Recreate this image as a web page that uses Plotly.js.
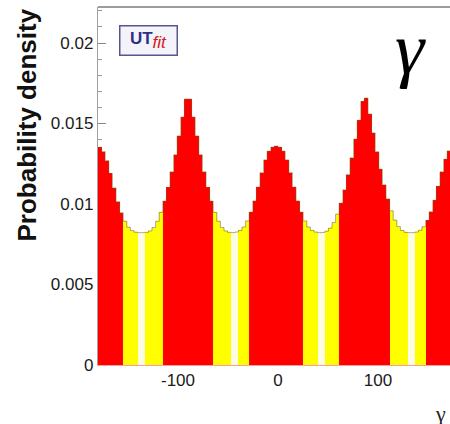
<!DOCTYPE html>
<html>
<head>
<meta charset="utf-8">
<script src="https://cdn.plot.ly/plotly-3.0.1.min.js"></script>
<style>
  html, body { margin: 0; padding: 0; background: #ffffff; overflow: hidden; }
  #chart { width: 460px; height: 424px; }
</style>
</head>
<body>
<div id="chart"></div>
<script>
// Posterior of the CKM angle gamma (degrees), 100 bins from -180 to 180
const binLow = -180;
const binWidth = 3.6;
const density = [
  0.01353, 0.01326, 0.01270, 0.01190, 0.01100, 0.01015, 0.00946, 0.00893, 0.00856, 0.00835,
  0.00825, 0.00822, 0.00822, 0.00824, 0.00833, 0.00854, 0.00893, 0.00948, 0.01018, 0.01103,
  0.01200, 0.01306, 0.01423, 0.01540, 0.01652, 0.01652, 0.01540, 0.01423, 0.01306, 0.01200,
  0.01103, 0.01018, 0.00948, 0.00893, 0.00854, 0.00833, 0.00824, 0.00822, 0.00826, 0.00836,
  0.00857, 0.00895, 0.00949, 0.01019, 0.01105, 0.01195, 0.01274, 0.01328, 0.01353, 0.01360,
  0.01353, 0.01328, 0.01274, 0.01195, 0.01105, 0.01019, 0.00949, 0.00895, 0.00857, 0.00836,
  0.00826, 0.00822, 0.00823, 0.00831, 0.00850, 0.00885, 0.00937, 0.01005, 0.01088, 0.01183,
  0.01287, 0.01403, 0.01520, 0.01637, 0.01658, 0.01559, 0.01442, 0.01325, 0.01216, 0.01119,
  0.01032, 0.00958, 0.00900, 0.00860, 0.00836, 0.00824, 0.00822, 0.00822, 0.00826, 0.00837,
  0.00859, 0.00898, 0.00952, 0.01023, 0.01110, 0.01200, 0.01278, 0.01330, 0.01354, 0.01360
];

// 68% probability intervals (red) and the gaps outside the 95% region (pale)
const interval68 = [[-180, -154.8], [-115.2, -64.8], [-28.8, 25.2], [61.2, 111.6], [147.6, 180]];
const outside95 = [[-140.4, -133.2], [-46.8, -39.6], [39.6, 46.8], [129.6, 136.8]];

// Axis ticks
const xTickVals = [-100, 0, 100];
const xTickText = ['-100', '0', '100'];
const yTickVals = [0, 0.005, 0.01, 0.015, 0.02];
const yTickText = ['0', '0.005', '0.01', '0.015', '0.02'];

const centers = density.map((_, i) => binLow + binWidth * (i + 0.5));
const inAny = (x, list) => list.some(([a, b]) => x > a && x < b);
const colors = centers.map(c =>
  inAny(c, interval68) ? '#ff0000' : (inAny(c, outside95) ? '#fdfde6' : '#ffff00'));

const bars = {
  type: 'bar',
  x: centers,
  y: density,
  width: binWidth,
  marker: { color: colors, line: { width: 0 } },
  hoverinfo: 'skip'
};

const outline = {
  type: 'scatter',
  mode: 'lines',
  x: centers,
  y: density,
  line: { shape: 'hvh', color: 'rgba(120,95,30,0.55)', width: 1 },
  hoverinfo: 'skip'
};

const plotLeft = 98, plotTop = 7, plotW = 360, plotH = 358;
const px2x = px => (px - plotLeft) / plotW;
const px2y = py => (plotTop + plotH - py) / plotH;

const layout = {
  width: 460,
  height: 424,
  margin: { l: plotLeft, r: 460 - plotLeft - plotW, t: plotTop, b: 424 - plotTop - plotH },
  paper_bgcolor: '#ffffff',
  plot_bgcolor: '#ffffff',
  showlegend: false,
  bargap: 0,
  font: { family: 'Liberation Sans, Arial, sans-serif', color: '#1a1a1a' },
  xaxis: {
    range: [-180, 180],
    tickvals: xTickVals,
    ticktext: xTickText,
    ticks: '',
    tickfont: { size: 17, color: '#1a1a1a' },
    showgrid: false,
    zeroline: false,
    showline: true,
    linecolor: '#f2a0a0',
    linewidth: 1
  },
  yaxis: {
    range: [0, 0.02224],
    tickvals: yTickVals,
    ticktext: yTickText,
    ticks: 'inside',
    ticklen: 8,
    tickcolor: '#888888',
    tickfont: { size: 17, color: '#1a1a1a' },
    minor: { dtick: 0.001, ticks: 'inside', ticklen: 4, tickcolor: '#999999' },
    showgrid: false,
    zeroline: false,
    showline: true,
    linecolor: '#a0a0a0',
    linewidth: 1.2,
    layer: 'below traces'
  },
  shapes: [
    { type: 'line', xref: 'paper', yref: 'paper', x0: 0, x1: 1, y0: 1, y1: 1,
      line: { color: '#9c9c9c', width: 2 } }
  ],
  annotations: [
    { // y axis title, aligned to the top of the axis
      text: '<b>Probability density</b>',
      textangle: -90,
      xref: 'paper', yref: 'paper',
      x: px2x(26), y: px2y(7),
      xanchor: 'center', yanchor: 'top',
      showarrow: false,
      font: { family: 'Liberation Sans, Arial, sans-serif', size: 26, color: '#111111' }
    },
    { // x axis title
      text: 'γ',
      xref: 'paper', yref: 'paper',
      x: px2x(440), y: px2y(413),
      xanchor: 'center', yanchor: 'middle',
      showarrow: false,
      font: { family: 'Liberation Serif, Times New Roman, serif', size: 22, color: '#222222' }
    },
    { // large label of the parameter
      text: '<i>γ</i>',
      xref: 'paper', yref: 'paper',
      x: px2x(410), y: px2y(48),
      xanchor: 'center', yanchor: 'middle',
      showarrow: false,
      font: { family: 'Liberation Serif, Times New Roman, serif', size: 74, color: '#000000' }
    },
    { // collaboration logo
      text: '<b><span style="color:#2e2e8c">UT</span></b><sub><i><span style="color:#d42020;font-size:17px">fit</span></i></sub>',
      xref: 'paper', yref: 'paper',
      x: px2x(148.5), y: px2y(40),
      xanchor: 'center', yanchor: 'middle',
      showarrow: false,
      width: 54, height: 26,
      bgcolor: '#f3f3f9',
      bordercolor: '#55558f',
      borderwidth: 1.5,
      borderpad: 1,
      font: { family: 'Liberation Sans, Arial, sans-serif', size: 17, color: '#2e2e8c' }
    }
  ]
};

Plotly.newPlot('chart', [bars, outline], layout, { displayModeBar: false, staticPlot: true });
</script>
</body>
</html>
